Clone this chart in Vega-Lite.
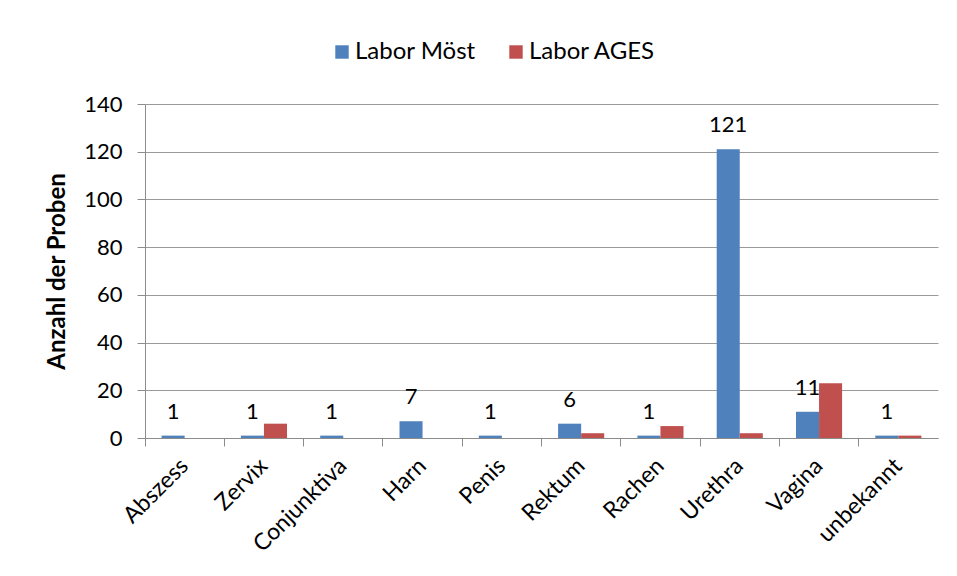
{
  "$schema": "https://vega.github.io/schema/vega-lite/v6.json",
  "autosize": "none",
  "width": 793,
  "height": 334,
  "padding": {"left": 145, "top": 104, "right": 19, "bottom": 138},
  "background": "white",
  "config": {
    "font": "Lato",
    "view": {"stroke": null},
    "axis": {"labelColor": "#000000", "titleColor": "#000000", "domainColor": "#8c8c8c", "tickColor": "#8c8c8c"}
  },
  "data": {
    "values": [
      {"Ort": "Abszess", "Labor": "Labor Möst", "Anzahl": 1},
      {"Ort": "Zervix", "Labor": "Labor Möst", "Anzahl": 1},
      {"Ort": "Conjunktiva", "Labor": "Labor Möst", "Anzahl": 1},
      {"Ort": "Harn", "Labor": "Labor Möst", "Anzahl": 7},
      {"Ort": "Penis", "Labor": "Labor Möst", "Anzahl": 1},
      {"Ort": "Rektum", "Labor": "Labor Möst", "Anzahl": 6},
      {"Ort": "Rachen", "Labor": "Labor Möst", "Anzahl": 1},
      {"Ort": "Urethra", "Labor": "Labor Möst", "Anzahl": 121},
      {"Ort": "Vagina", "Labor": "Labor Möst", "Anzahl": 11},
      {"Ort": "unbekannt", "Labor": "Labor Möst", "Anzahl": 1},
      {"Ort": "Abszess", "Labor": "Labor AGES", "Anzahl": 0},
      {"Ort": "Zervix", "Labor": "Labor AGES", "Anzahl": 6},
      {"Ort": "Conjunktiva", "Labor": "Labor AGES", "Anzahl": 0},
      {"Ort": "Harn", "Labor": "Labor AGES", "Anzahl": 0},
      {"Ort": "Penis", "Labor": "Labor AGES", "Anzahl": 0},
      {"Ort": "Rektum", "Labor": "Labor AGES", "Anzahl": 2},
      {"Ort": "Rachen", "Labor": "Labor AGES", "Anzahl": 5},
      {"Ort": "Urethra", "Labor": "Labor AGES", "Anzahl": 2},
      {"Ort": "Vagina", "Labor": "Labor AGES", "Anzahl": 23},
      {"Ort": "unbekannt", "Labor": "Labor AGES", "Anzahl": 1}
    ]
  },
  "resolve": {"axis": {"x": "independent"}},
  "layer": [
    {
      "mark": {"type": "bar"},
      "encoding": {
        "x": {
          "field": "Ort", "type": "nominal", "sort": null,
          "scale": {"paddingInner": 0, "paddingOuter": 0},
          "axis": {
            "orient": "bottom", "title": null, "ticks": false, "domain": true,
            "labelAngle": -45, "labelAlign": "right", "labelBaseline": "middle",
            "labelFontSize": 23, "labelPadding": 24, "grid": false
          }
        },
        "xOffset": {
          "field": "Labor", "type": "nominal", "sort": ["Labor Möst", "Labor AGES"],
          "scale": {"paddingInner": 0, "paddingOuter": 0.72}
        },
        "y": {
          "field": "Anzahl", "type": "quantitative",
          "scale": {"domain": [0, 140], "nice": false},
          "axis": {
            "title": "Anzahl der Proben", "titleFontSize": 24, "titleFontWeight": "bold", "titlePadding": 14,
            "values": [0, 20, 40, 60, 80, 100, 120, 140],
            "labelFontSize": 22, "labelPadding": 15, "tickSize": 8,
            "grid": true, "gridColor": "#9a9a9a", "gridOpacity": 1
          }
        },
        "color": {
          "field": "Labor", "type": "nominal", "sort": ["Labor Möst", "Labor AGES"],
          "scale": {"domain": ["Labor Möst", "Labor AGES"], "range": ["#4F81BD", "#C0504D"]},
          "legend": {
            "title": null, "orient": "none", "direction": "horizontal",
            "legendX": 185, "legendY": -64,
            "symbolType": "square", "symbolSize": 180, "symbolStrokeWidth": 0,
            "labelFontSize": 24, "labelColor": "#000000", "columnPadding": 28, "labelOffset": 1
          }
        }
      }
    },
    {
      "transform": [{"filter": "datum.Labor === 'Labor Möst'"}],
      "mark": {"type": "text", "baseline": "alphabetic", "dy": -17, "fontSize": 22, "color": "#000000"},
      "encoding": {
        "x": {
          "field": "Ort", "type": "nominal", "sort": null,
          "axis": {
            "orient": "bottom", "title": null, "labels": false, "domain": false,
            "bandPosition": 0, "tickSize": 8, "grid": false
          }
        },
        "xOffset": {"field": "Labor", "type": "nominal", "sort": ["Labor Möst", "Labor AGES"]},
        "y": {"field": "Anzahl", "type": "quantitative"},
        "text": {"field": "Anzahl", "type": "quantitative"}
      }
    }
  ]
}
